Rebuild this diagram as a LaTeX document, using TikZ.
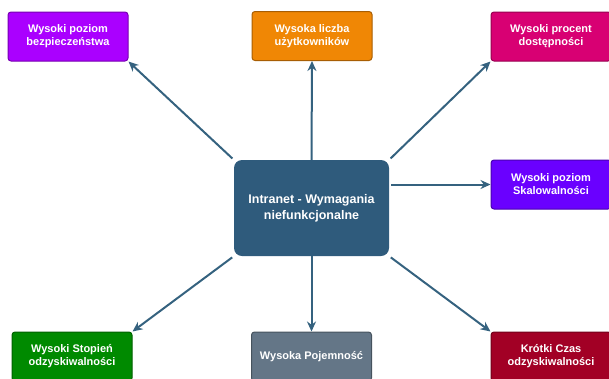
\documentclass[tikz,border=0pt]{standalone}
\usepackage{fontspec}
\setmainfont{Liberation Sans}
\usetikzlibrary{arrows.meta}
\definecolor{hubblue}{HTML}{2F5B7C}
\definecolor{arrblue}{HTML}{35627F}
\tikzset{req/.style={draw=#1!70!black,fill=#1,text=white,line width=1pt,rounded corners=3pt,
    minimum width=120pt,minimum height=49pt,align=center,font=\fontsize{11}{13}\selectfont\bfseries},
  hub/.style={fill=hubblue,text=white,rounded corners=8pt,minimum width=155pt,minimum height=96pt,
    align=center,font=\fontsize{12.5}{16}\selectfont\bfseries},
  arr/.style={draw=arrblue,line width=2pt,-{Stealth[length=10pt,width=9pt]}}}
\definecolor{cpurple}{HTML}{AA00FF}
\definecolor{corange}{HTML}{F08705}
\definecolor{cmagenta}{HTML}{D80073}
\definecolor{cviolet}{HTML}{6A00FF}
\definecolor{cgreen}{HTML}{008A00}
\definecolor{cgray}{HTML}{647687}
\definecolor{cred}{HTML}{A20025}

\begin{document}
\begin{tikzpicture}[x=1pt,y=-1pt]
                \useasboundingbox (0,0) rectangle (609,378);
                \clip (0,0) rectangle (609,378);
                
                % Central node
                \node[hub] (hub) at (311.5,208) {Intranet - Wymagania\\niefunkcjonalne};
                
                % Top row
                \node[req=cpurple] (secur) at (68,36.5) {Wysoki poziom\\bezpieczeństwa};
                \node[req=corange] (users) at (312,36) {Wysoka liczba\\użytkowników};
                \node[req=cmagenta] (avail) at (551,36.5) {Wysoki procent\\dostępności};
                
                % Right
                \node[req=cviolet] (scale) at (551,184.5) {Wysoki poziom\\Skalowalności};
                
                % Bottom row
                \node[req=cgreen] (recov) at (72,356.5) {Wysoki Stopień\\odzyskiwalności};
                \node[req=cgray] (capac) at (311.5,356.5) {Wysoka Pojemność};
                \node[req=cred] (rtime) at (551,356.5) {Krótki Czas\\odzyskiwalności};
                
                % Arrows
                \draw[arr,shorten <=2pt] (hub.north west) -- (secur.south east);
                \draw[arr] (hub.north) -- (users.south);
                \draw[arr,shorten <=2pt] (hub.north east) -- (avail.south west);
                \draw[arr,shorten <=2pt] (hub.east |- scale.west) -- (scale.west);
                \draw[arr,shorten <=2pt] (hub.south west) -- (recov.north east);
                \draw[arr] (hub.south) -- (capac.north);
                \draw[arr,shorten <=2pt] (hub.south east) -- (rtime.north west);
            \end{tikzpicture}
\end{document}
